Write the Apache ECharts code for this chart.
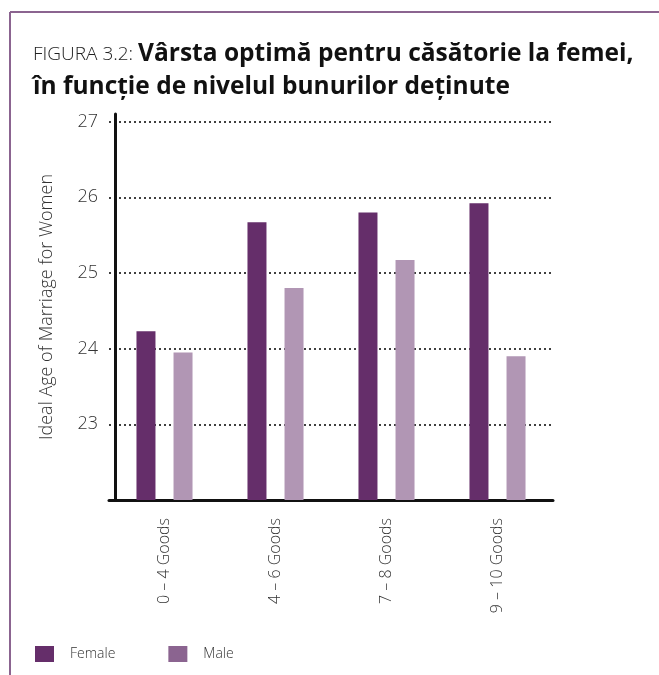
<!DOCTYPE html>
<html>
<head>
<meta charset="utf-8">
<script src="https://cdn.jsdelivr.net/npm/echarts@6/dist/echarts.min.js"></script>
<style>
html,body{margin:0;padding:0;background:#fff;}
#chart{width:659px;height:675px;}
</style>
</head>
<body>
<div id="chart"></div>
<script>
const categories = ['0 \u2013 4 Goods', '4 \u2013 6 Goods', '7 \u2013 8 Goods', '9 \u2013 10 Goods'];
const femaleValues = [24.23, 25.67, 25.80, 25.92];
const maleValues = [23.95, 24.80, 25.17, 23.90];
const seriesNames = ['Female', 'Male'];
const titleLead = 'FIGURA 3.2: ';
const titleLine1 = 'V\u00e2rsta optim\u0103 pentru c\u0103s\u0103torie la femei,';
const titleLine2 = '\u00een func\u021bie de nivelul bunurilor de\u021binute';
const yAxisName = 'Ideal Age of Marriage for Women';

const FEMALE = '#652e6a';
const MALE_BAR = '#b196b4';
const MALE_LEG = '#8b6490';
const FRAME = '#8b6490';
const FONT = '"Open Sans", "Noto Sans", sans-serif';

const chart = echarts.init(document.getElementById('chart'), null, {renderer: 'canvas'});
chart.setOption({
  animation: false,
  backgroundColor: '#fff',
  graphic: [
    {type: 'line', shape: {x1: 10, y1: 12, x2: 659, y2: 12}, style: {stroke: FRAME, lineWidth: 2}},
    {type: 'line', shape: {x1: 10, y1: 12, x2: 10, y2: 675}, style: {stroke: FRAME, lineWidth: 2}}
  ],
  title: {
    left: 28,
    top: 33,
    text: '{a|' + titleLead + '}{b|' + titleLine1 + '}\n{b|' + titleLine2 + '}',
    textStyle: {
      rich: {
        a: {fontFamily: FONT, fontSize: 19, fontWeight: 300, color: '#222', lineHeight: 33},
        b: {fontFamily: FONT, fontSize: 24.5, fontWeight: 'bold', color: '#111', lineHeight: 33}
      }
    }
  },
  legend: {
    left: 30,
    top: 641,
    itemWidth: 19,
    itemHeight: 16,
    itemGap: 53,
    icon: 'rect',
    textStyle: {fontFamily: FONT, fontSize: 14, fontWeight: 300, color: '#333', padding: [0, 0, 0, 11]},
    data: [
      {name: 'Female', itemStyle: {color: FEMALE}},
      {name: 'Male', itemStyle: {color: MALE_LEG}}
    ]
  },
  grid: {left: 109, width: 444, top: 114, bottom: 175, containLabel: false},
  xAxis: {
    type: 'category',
    data: categories,
    axisLine: {show: true, lineStyle: {color: '#111', width: 3}},
    axisTick: {show: false},
    axisLabel: {rotate: 90, margin: 18, fontFamily: FONT, fontSize: 16, fontWeight: 300, color: '#333'}
  },
  yAxis: {
    type: 'value',
    min: 22,
    max: 27.1,
    interval: 1,
    offset: -6,
    name: yAxisName,
    nameLocation: 'middle',
    nameGap: 59,
    nameTextStyle: {fontFamily: FONT, fontSize: 18, fontWeight: 300, color: '#333'},
    axisLine: {show: true, lineStyle: {color: '#111', width: 3}},
    axisTick: {show: false},
    axisLabel: {
      margin: 17,
      fontFamily: FONT, fontSize: 18, fontWeight: 300, color: '#333',
      formatter: function (v) { return (Number.isInteger(v) && v > 22) ? String(v) : ''; }
    },
    splitLine: {show: true, showMinLine: false, showMaxLine: false, lineStyle: {color: '#000', type: [2, 3], width: 1.5}}
  },
  series: [
    {name: seriesNames[0], type: 'bar', data: femaleValues, barWidth: 19, barGap: '95%', itemStyle: {color: FEMALE}},
    {name: seriesNames[1], type: 'bar', data: maleValues, barWidth: 19, barGap: '95%', itemStyle: {color: MALE_BAR}}
  ]
});
</script>
</body>
</html>
